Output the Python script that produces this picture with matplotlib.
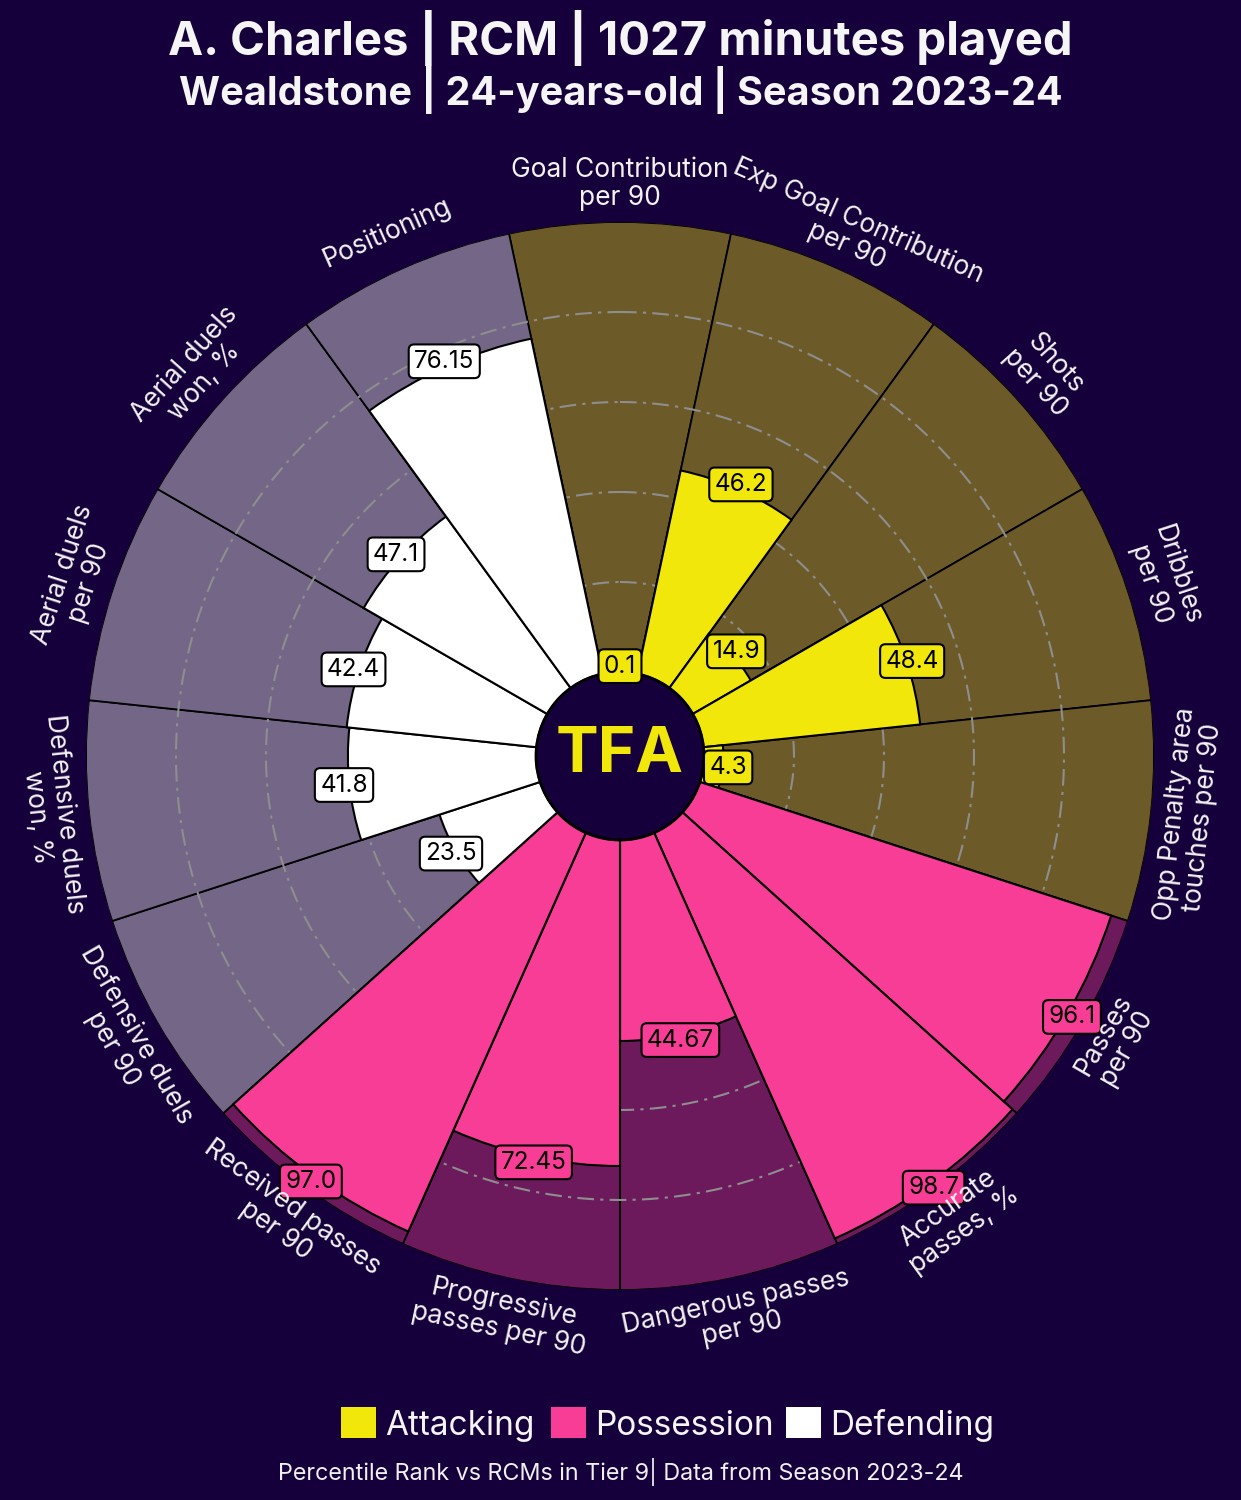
import numpy as np
import matplotlib
matplotlib.use("Agg")
import matplotlib.pyplot as plt
from matplotlib.patches import Circle, Rectangle

# ---------------- data ----------------
params = [
    "Goal Contribution\nper 90", "Exp Goal Contribution\nper 90", "Shots\nper 90",
    "Dribbles\nper 90", "Opp Penalty area\ntouches per 90", "Passes\nper 90",
    "Accurate\npasses, %", "Dangerous passes\nper 90", "Progressive\npasses per 90",
    "Received passes\nper 90", "Defensive duels\nper 90", "Defensive duels\nwon, %",
    "Aerial duels\nper 90", "Aerial duels\nwon, %", "Positioning",
]
values = [0.1, 46.2, 14.9, 48.4, 4.3, 96.1, 98.7, 44.67, 72.45, 97.0,
          23.5, 41.8, 42.4, 47.1, 76.15]
groups = ["Attacking"] * 5 + ["Possession"] * 5 + ["Defending"] * 5
legend_names = ["Attacking", "Possession", "Defending"]

title = "A. Charles | RCM | 1027 minutes played"
subtitle = "Wealdstone | 24-years-old | Season 2023-24"
footer = "Percentile Rank vs RCMs in Tier 9| Data from Season 2023-24"

# ---------------- style ----------------
BG = "#16003B"
slice_col = {"Attacking": "#F2E70A", "Possession": "#F73D96", "Defending": "#FFFFFF"}
back_col = {"Attacking": "#6C5A29", "Possession": "#6C1A5C", "Defending": "#736687"}
FONT = "Inter"

fig = plt.figure(figsize=(12.41, 15), dpi=100, facecolor=BG)

cx, cy, R = 620, 756, 534  # pixel geometry of pizza
ax = fig.add_axes([(cx - R) / 1241, (1500 - cy - R) / 1500, 2 * R / 1241, 2 * R / 1500],
                  projection="polar")
ax.set_facecolor("none")
ax.set_theta_zero_location("N")
ax.set_theta_direction(-1)

hole = 100 * 84 / 450
rmax = 100 + hole
n = len(params)
width = 2 * np.pi / n
theta = np.arange(n) * width

# background slices
ax.bar(theta, [100] * n, width=width, bottom=hole,
       color=[back_col[g] for g in groups], edgecolor="black", linewidth=1.3, zorder=1)

# grid circles
tt = np.linspace(0, 2 * np.pi, 500)
for g in [20, 40, 60, 80]:
    ax.plot(tt, np.full_like(tt, hole + g), color="#8E8E8E", lw=1.5,
            ls=(0, (8, 3, 1.5, 3)), zorder=2)

# value slices
ax.bar(theta, values, width=width, bottom=hole,
       color=[slice_col[g] for g in groups], edgecolor="black", linewidth=1.5, zorder=3)

ax.set_ylim(0, rmax)
ax.set_xticks([])
ax.set_yticks([])
ax.grid(False)
ax.spines["polar"].set_visible(False)

# hole
ax.add_patch(Circle((0, 0), hole, transform=ax.transData._b, facecolor=BG,
                    edgecolor="black", lw=2, zorder=5))
ax.text(0, 0, "TFA", ha="center", va="center", color="#F2E70A", fontsize=46,
        fontweight="bold", family=FONT, zorder=6)

# value labels
for th, v, g in zip(theta, values, groups):
    ax.text(th, hole + v + 1.2, str(v), ha="center", va="center", fontsize=17.5,
            family=FONT, color="black", zorder=7,
            bbox=dict(boxstyle="round,pad=0.22", facecolor=slice_col[g],
                      edgecolor="black", lw=1.5))

# param labels
for i, (th, p) in enumerate(zip(theta, params)):
    rot = -i * 360 / n
    while rot <= -180:
        rot += 360
    if rot < -90:
        rot += 180
    elif rot > 90:
        rot -= 180
    ax.text(th, rmax + 8.5, p, ha="center", va="center", rotation=rot,
            rotation_mode="anchor", fontsize=19, family=FONT, color="#F2F2F2",
            linespacing=1.08, zorder=8)

# titles
fig.text(0.5, 1 - 38 / 1500, title, ha="center", va="center", color="#F5F5F5",
         fontsize=34, fontweight="bold", family=FONT)
fig.text(0.5, 1 - 90 / 1500, subtitle, ha="center", va="center", color="#F5F5F5",
         fontsize=28.5, fontweight="bold", family=FONT)

# legend
leg_sq_x = [341, 551, 786]
for x0, name in zip(leg_sq_x, legend_names):
    fig.patches.append(Rectangle((x0 / 1241, 1 - 1438 / 1500), 35 / 1241, 31 / 1500,
                                 transform=fig.transFigure, facecolor=slice_col[name],
                                 edgecolor="none"))
    fig.text((x0 + 44) / 1241, 1 - 1426 / 1500, name, ha="left", va="center",
             color="#F5F5F5", fontsize=24, family=FONT)

fig.text(0.5, 1 - 1472 / 1500, footer, ha="center", va="center", color="#F0F0F0",
         fontsize=16.8, family=FONT)

fig.savefig("out.png", dpi=100, facecolor=BG)
